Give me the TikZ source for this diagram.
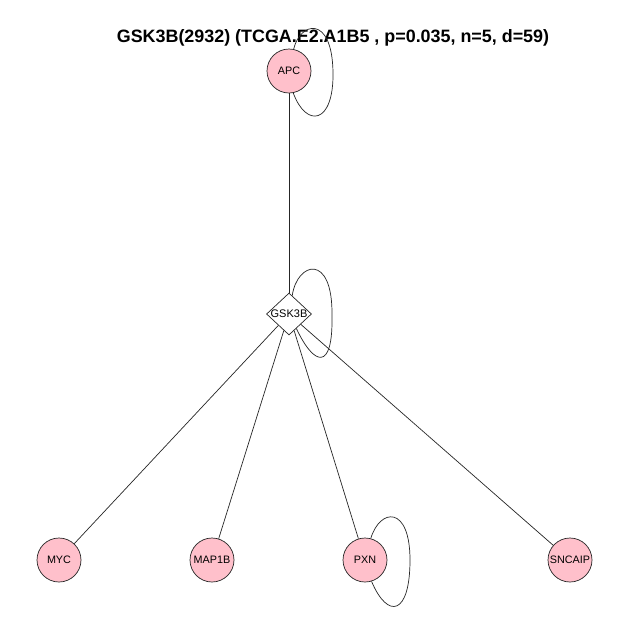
\documentclass[tikz,border=0pt]{standalone}
\usepackage{fontspec}
\setmainfont{Liberation Sans}
\usetikzlibrary{shapes.geometric}
\begin{document}
\begin{tikzpicture}[x=1pt,y=-1pt,
  gene/.style={circle,draw=black!85,line width=0.7pt,fill={rgb,255:red,255;green,192;blue,203},minimum size=44pt,inner sep=0pt,font=\fontsize{10.8}{12}\selectfont},
  hub/.style={diamond,draw=black!85,line width=0.7pt,fill=white,minimum width=45pt,minimum height=42pt,inner sep=0pt},
  hublabel/.style={font=\fontsize{11}{12}\selectfont,inner sep=0pt},
  edge/.style={draw=black!85,line width=0.7pt},
  titlestyle/.style={font=\fontsize{17.9}{20}\selectfont\bfseries,inner sep=0pt}]
\fill[white] (0,0) rectangle (630,630);
\useasboundingbox (0,0) rectangle (630,630);
\node[titlestyle] (title) at (333,38) {GSK3B(2932) (TCGA.E2.A1B5 , p=0.035, n=5, d=59)};
\node[gene] (apc) at (289,71) {APC};
\node[hub] (gsk) at (289,314) {};
\node[hublabel] (gsklab) at (gsk.center) {GSK3B};
\node[gene] (myc) at (59,560) {MYC};
\node[gene] (map) at (212,560) {MAP1B};
\node[gene] (pxn) at (365,560) {PXN};
\node[gene] (snc) at (570,560) {SNCAIP};
\draw[edge] (apc) -- (gsk);
\draw[edge] (gsk) -- (myc);
\draw[edge] (gsk) -- (map);
\draw[edge] (gsk) -- (pxn);
\draw[edge] (gsk) -- (snc);
% self loops
\draw[edge] (apc.78) .. controls (300,22) and (332,14) .. (333,72)
  .. controls (334,125) and (306,128) .. (apc.-79);
\draw[edge] (gsk.80) .. controls (297,262) and (333,252) .. (332,316)
  .. controls (333,372) and (314,366) .. (gsk.-63);
\draw[edge] (pxn.75) .. controls (380,508) and (410,505) .. (410,560)
  .. controls (410,615) and (388,620) .. (pxn.-73);
\end{tikzpicture}
\end{document}
